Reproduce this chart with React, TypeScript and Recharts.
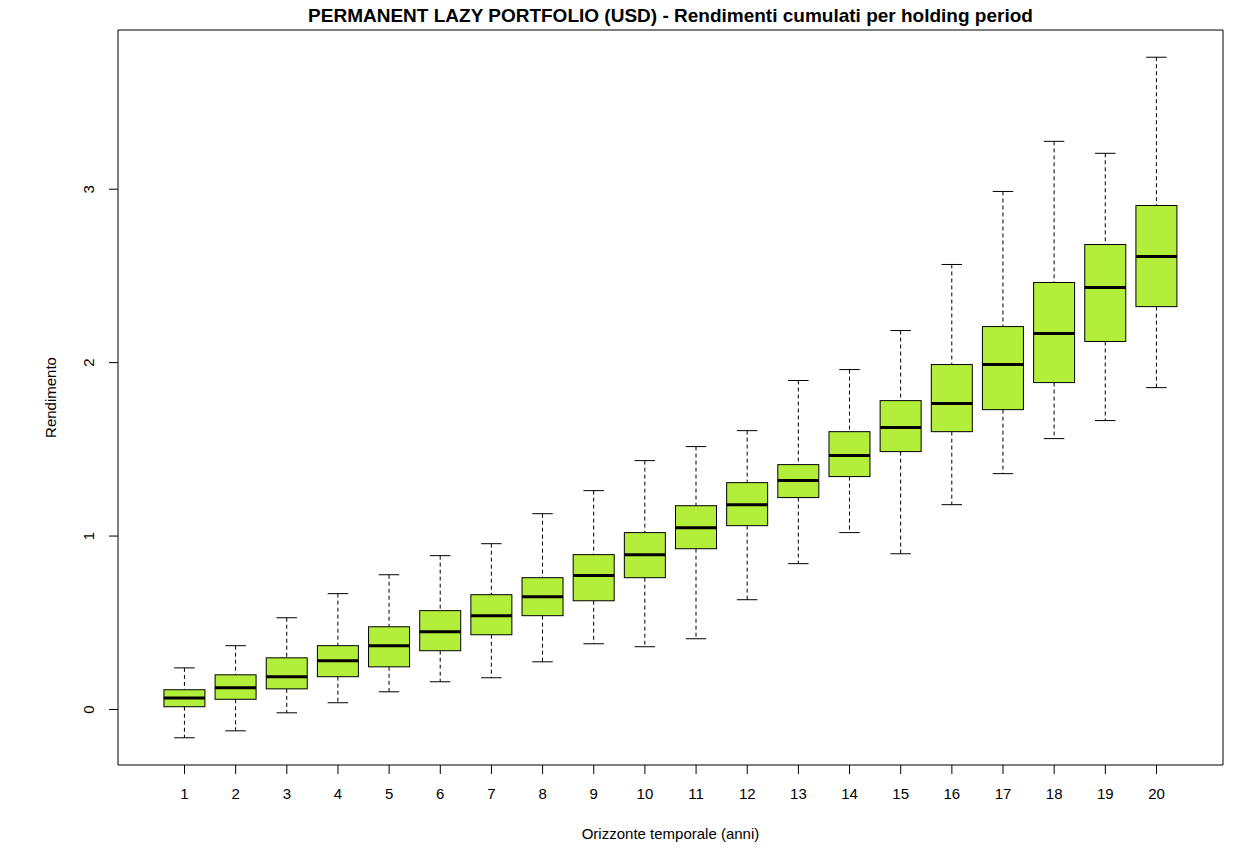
import React from 'react';
import { ComposedChart, Bar, XAxis, YAxis, ReferenceArea } from 'recharts';

// holding period (years) and the five box statistics
const YEARS = [1, 2, 3, 4, 5, 6, 7, 8, 9, 10, 11, 12, 13, 14, 15, 16, 17, 18, 19, 20];
const LOWER = [-0.163, -0.123, -0.019, 0.039, 0.102, 0.16, 0.183, 0.275, 0.379, 0.362, 0.408, 0.633, 0.841, 1.02, 0.898, 1.181, 1.36, 1.562, 1.666, 1.856];
const Q1 = [0.016, 0.059, 0.119, 0.189, 0.246, 0.339, 0.431, 0.541, 0.627, 0.76, 0.927, 1.06, 1.222, 1.343, 1.487, 1.602, 1.729, 1.885, 2.122, 2.323];
const MEDIAN = [0.067, 0.125, 0.189, 0.281, 0.368, 0.448, 0.541, 0.65, 0.772, 0.893, 1.048, 1.181, 1.32, 1.464, 1.626, 1.764, 1.989, 2.168, 2.433, 2.612];
const Q3 = [0.114, 0.2, 0.298, 0.368, 0.477, 0.57, 0.662, 0.76, 0.893, 1.02, 1.175, 1.308, 1.412, 1.602, 1.781, 1.989, 2.208, 2.462, 2.681, 2.906];
const UPPER = [0.24, 0.368, 0.529, 0.668, 0.777, 0.887, 0.956, 1.129, 1.262, 1.435, 1.516, 1.608, 1.897, 1.96, 2.185, 2.566, 2.987, 3.276, 3.207, 3.761];
const Y_TICKS = [0, 1, 2, 3];

const TITLE = 'PERMANENT LAZY PORTFOLIO (USD) - Rendimenti cumulati per holding period';
const X_LABEL = 'Orizzonte temporale (anni)';
const Y_LABEL = 'Rendimento';

const FONT = '"Liberation Sans", Arial, sans-serif';
const BOX_FILL = '#B3EE3A';
const AXIS_FONT_SIZE = 15;

const X_DOMAIN: [number, number] = [-0.3, 21.3];
const Y_DOMAIN: [number, number] = [-0.32, 3.918];

const rows = YEARS.map((year, i) => ({
  year,
  lower: LOWER[i],
  q1: Q1[i],
  median: MEDIAN[i],
  q3: Q3[i],
  upper: UPPER[i],
}));

// the bar spans q1..q3; the rest is placed with the same linear scale
function BoxShape(props: any) {
  const { x, y, width, height, payload } = props;
  if (!payload || !height) return null;
  const k = height / (payload.q3 - payload.q1);
  const yOf = (v: number) => y + (payload.q3 - v) * k;
  const cx = x + width / 2;
  const cap = width / 4;
  return (
    <g>
      <line x1={cx} x2={cx} y1={yOf(payload.upper)} y2={y} stroke="#000" strokeDasharray="4 3" />
      <line x1={cx} x2={cx} y1={y + height} y2={yOf(payload.lower)} stroke="#000" strokeDasharray="4 3" />
      <line x1={cx - cap} x2={cx + cap} y1={yOf(payload.upper)} y2={yOf(payload.upper)} stroke="#000" />
      <line x1={cx - cap} x2={cx + cap} y1={yOf(payload.lower)} y2={yOf(payload.lower)} stroke="#000" />
      <rect x={x} y={y} width={width} height={height} fill={BOX_FILL} stroke="#000" strokeWidth={1} />
      <line x1={x} x2={x + width} y1={yOf(payload.median)} y2={yOf(payload.median)} stroke="#000" strokeWidth={3} />
    </g>
  );
}

function YTick(props: any) {
  const { x, y, payload } = props;
  return (
    <text
      x={x}
      y={y}
      transform={`rotate(-90 ${x} ${y})`}
      textAnchor="middle"
      dominantBaseline="central"
      fontSize={AXIS_FONT_SIZE}
      fontFamily={FONT}
      fill="#000"
    >
      {payload.value}
    </text>
  );
}

export default function App() {
  return (
    <div style={{ position: 'absolute', left: 0, top: 0, width: 1244, height: 863, background: '#fff' }}>
      <div
        style={{
          position: 'absolute',
          top: 6,
          left: 118,
          width: 1105,
          textAlign: 'center',
          fontFamily: FONT,
          fontWeight: 'bold',
          fontSize: 19,
          lineHeight: '19px',
          color: '#000',
          whiteSpace: 'nowrap',
        }}
      >
        {TITLE}
      </div>
      <ComposedChart width={1244} height={863} data={rows} margin={{ top: 30, right: 21, bottom: 0, left: 0 }}>
        <XAxis
          dataKey="year"
          type="number"
          domain={X_DOMAIN}
          ticks={YEARS}
          interval={0}
          height={98}
          tickSize={9}
          tickMargin={14}
          axisLine={false}
          tickLine={{ stroke: '#000' }}
          tick={{ fill: '#000', fontSize: AXIS_FONT_SIZE, fontFamily: FONT }}
          allowDataOverflow
          label={(p: any) => {
            const vb = p.viewBox;
            return (
              <text x={vb.x + vb.width / 2} y={839} textAnchor="middle" fontSize={AXIS_FONT_SIZE} fontFamily={FONT} fill="#000">
                {X_LABEL}
              </text>
            );
          }}
        />
        <YAxis
          type="number"
          domain={Y_DOMAIN}
          ticks={Y_TICKS}
          width={118}
          tickSize={9}
          tickMargin={20}
          axisLine={false}
          tickLine={{ stroke: '#000' }}
          tick={<YTick />}
          allowDataOverflow
          label={(p: any) => {
            const vb = p.viewBox;
            const cy = vb.y + vb.height / 2;
            return (
              <text
                x={50}
                y={cy}
                transform={`rotate(-90 50 ${cy})`}
                textAnchor="middle"
                dominantBaseline="central"
                fontSize={AXIS_FONT_SIZE}
                fontFamily={FONT}
                fill="#000"
              >
                {Y_LABEL}
              </text>
            );
          }}
        />
        <Bar dataKey={(d: any) => [d.q1, d.q3]} barSize={41} shape={<BoxShape />} isAnimationActive={false} />
        <ReferenceArea
          x1={X_DOMAIN[0]}
          x2={X_DOMAIN[1]}
          y1={Y_DOMAIN[0]}
          y2={Y_DOMAIN[1]}
          fill="none"
          stroke="#000"
          strokeWidth={1}
          ifOverflow="visible"
        />
      </ComposedChart>
    </div>
  );
}
